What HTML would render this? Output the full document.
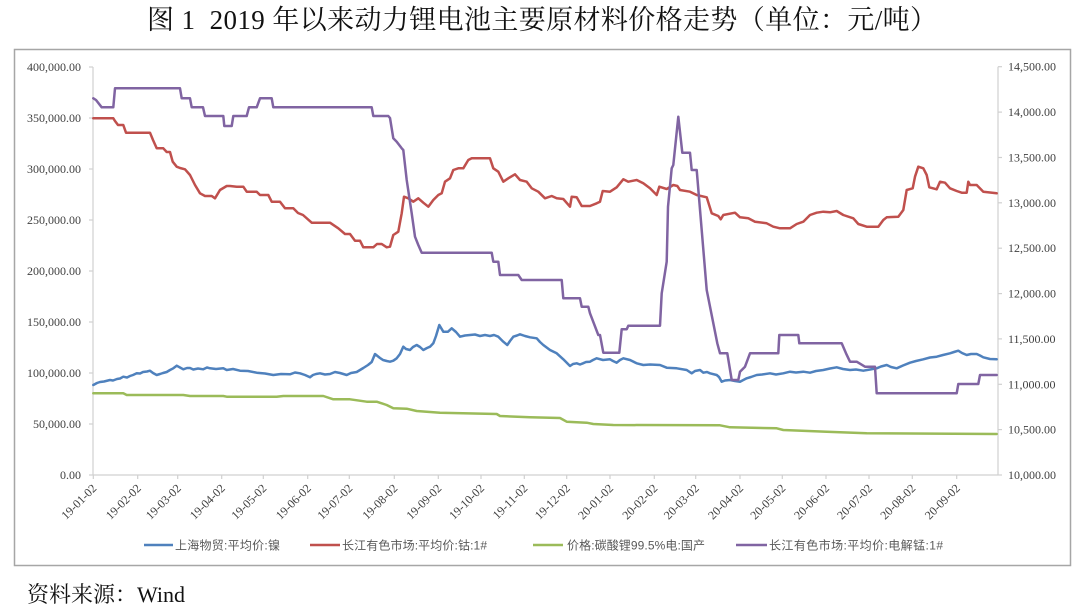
<!DOCTYPE html>
<html>
<head>
<meta charset="utf-8">
<style>
  html,body{margin:0;padding:0;background:#fff;}
  svg{display:block;}
  .ax{font-family:"Liberation Serif","Noto Serif CJK SC",serif;font-size:12px;fill:#404040;}
  .lg{font-family:"Liberation Sans","Noto Sans CJK SC",sans-serif;font-size:12px;fill:#595959;}
  .s{fill:none;stroke-width:2.5;stroke-linejoin:round;stroke-linecap:round;}
</style>
</head>
<body>
<svg width="1080" height="612" viewBox="0 0 1080 612" xmlns="http://www.w3.org/2000/svg">
  <rect width="1080" height="612" fill="#fff"/>
  <!-- Title -->
  <text x="147" y="29" font-family="'Liberation Serif','Noto Serif CJK SC',serif" font-size="27" fill="#111" textLength="790" xml:space="preserve">图 1  2019 年以来动力锂电池主要原材料价格走势（单位：元/吨）</text>

  <!-- Frame -->
  <rect x="14.5" y="49.5" width="1056" height="516" fill="#fff" stroke="#a6a6a6" stroke-width="1.5"/>

  <!-- Axes -->
  <g stroke="#d0d0d0" stroke-width="1.2" fill="none">
    <line x1="93" y1="67" x2="93" y2="475"/>
    <line x1="998" y1="66.7" x2="998" y2="475"/>
    <line x1="93" y1="475" x2="998" y2="475"/>
    <line x1="89" y1="475" x2="93" y2="475"/>
    <line x1="89" y1="424" x2="93" y2="424"/>
    <line x1="89" y1="373" x2="93" y2="373"/>
    <line x1="89" y1="322" x2="93" y2="322"/>
    <line x1="89" y1="271" x2="93" y2="271"/>
    <line x1="89" y1="220" x2="93" y2="220"/>
    <line x1="89" y1="169" x2="93" y2="169"/>
    <line x1="89" y1="118" x2="93" y2="118"/>
    <line x1="89" y1="67" x2="93" y2="67"/>
    <line x1="998" y1="475" x2="1002" y2="475"/>
    <line x1="998" y1="429.6" x2="1002" y2="429.6"/>
    <line x1="998" y1="384.3" x2="1002" y2="384.3"/>
    <line x1="998" y1="338.9" x2="1002" y2="338.9"/>
    <line x1="998" y1="293.6" x2="1002" y2="293.6"/>
    <line x1="998" y1="248.2" x2="1002" y2="248.2"/>
    <line x1="998" y1="202.8" x2="1002" y2="202.8"/>
    <line x1="998" y1="157.5" x2="1002" y2="157.5"/>
    <line x1="998" y1="112.1" x2="1002" y2="112.1"/>
    <line x1="998" y1="66.7" x2="1002" y2="66.7"/>
    <line x1="93.3" y1="475" x2="93.3" y2="479"/>
    <line x1="137.7" y1="475" x2="137.7" y2="479"/>
    <line x1="177.7" y1="475" x2="177.7" y2="479"/>
    <line x1="221.7" y1="475" x2="221.7" y2="479"/>
    <line x1="263.3" y1="475" x2="263.3" y2="479"/>
    <line x1="307.7" y1="475" x2="307.7" y2="479"/>
    <line x1="349.3" y1="475" x2="349.3" y2="479"/>
    <line x1="394.3" y1="475" x2="394.3" y2="479"/>
    <line x1="438.3" y1="475" x2="438.3" y2="479"/>
    <line x1="481" y1="475" x2="481" y2="479"/>
    <line x1="524.3" y1="475" x2="524.3" y2="479"/>
    <line x1="566.7" y1="475" x2="566.7" y2="479"/>
    <line x1="610" y1="475" x2="610" y2="479"/>
    <line x1="654.3" y1="475" x2="654.3" y2="479"/>
    <line x1="695.7" y1="475" x2="695.7" y2="479"/>
    <line x1="740" y1="475" x2="740" y2="479"/>
    <line x1="782.3" y1="475" x2="782.3" y2="479"/>
    <line x1="826" y1="475" x2="826" y2="479"/>
    <line x1="869" y1="475" x2="869" y2="479"/>
    <line x1="912.3" y1="475" x2="912.3" y2="479"/>
    <line x1="956.7" y1="475" x2="956.7" y2="479"/>
  </g>

  <!-- Left axis labels -->
  <g class="ax" text-anchor="end">
    <text x="81" y="479">0.00</text>
    <text x="81" y="428">50,000.00</text>
    <text x="81" y="377">100,000.00</text>
    <text x="81" y="326">150,000.00</text>
    <text x="81" y="275">200,000.00</text>
    <text x="81" y="224">250,000.00</text>
    <text x="81" y="173">300,000.00</text>
    <text x="81" y="122">350,000.00</text>
    <text x="81" y="71">400,000.00</text>
  </g>
  <!-- Right axis labels -->
  <g class="ax" text-anchor="start">
    <text x="1008" y="479">10,000.00</text>
    <text x="1008" y="433.6">10,500.00</text>
    <text x="1008" y="388.3">11,000.00</text>
    <text x="1008" y="342.9">11,500.00</text>
    <text x="1008" y="297.6">12,000.00</text>
    <text x="1008" y="252.2">12,500.00</text>
    <text x="1008" y="206.8">13,000.00</text>
    <text x="1008" y="161.5">13,500.00</text>
    <text x="1008" y="116.1">14,000.00</text>
    <text x="1008" y="70.7">14,500.00</text>
  </g>

  <!-- X labels -->
  <g class="ax" text-anchor="end">
    <text x="97.3" y="489" transform="rotate(-45 97.3 489)">19-01-02</text>
    <text x="141.7" y="489" transform="rotate(-45 141.7 489)">19-02-02</text>
    <text x="181.7" y="489" transform="rotate(-45 181.7 489)">19-03-02</text>
    <text x="225.7" y="489" transform="rotate(-45 225.7 489)">19-04-02</text>
    <text x="267.3" y="489" transform="rotate(-45 267.3 489)">19-05-02</text>
    <text x="311.7" y="489" transform="rotate(-45 311.7 489)">19-06-02</text>
    <text x="353.3" y="489" transform="rotate(-45 353.3 489)">19-07-02</text>
    <text x="398.3" y="489" transform="rotate(-45 398.3 489)">19-08-02</text>
    <text x="442.3" y="489" transform="rotate(-45 442.3 489)">19-09-02</text>
    <text x="485" y="489" transform="rotate(-45 485 489)">19-10-02</text>
    <text x="528.3" y="489" transform="rotate(-45 528.3 489)">19-11-02</text>
    <text x="570.7" y="489" transform="rotate(-45 570.7 489)">19-12-02</text>
    <text x="614" y="489" transform="rotate(-45 614 489)">20-01-02</text>
    <text x="658.3" y="489" transform="rotate(-45 658.3 489)">20-02-02</text>
    <text x="699.7" y="489" transform="rotate(-45 699.7 489)">20-03-02</text>
    <text x="744" y="489" transform="rotate(-45 744 489)">20-04-02</text>
    <text x="786.3" y="489" transform="rotate(-45 786.3 489)">20-05-02</text>
    <text x="830" y="489" transform="rotate(-45 830 489)">20-06-02</text>
    <text x="873" y="489" transform="rotate(-45 873 489)">20-07-02</text>
    <text x="916.3" y="489" transform="rotate(-45 916.3 489)">20-08-02</text>
    <text x="960.7" y="489" transform="rotate(-45 960.7 489)">20-09-02</text>
  </g>

  <!-- Green: lithium carbonate -->
  <polyline class="s" stroke="#9bbb59" points="93.3,393.3 123.3,393.3 126.7,395 183.3,395 190,396 223.3,396 226.7,396.7 276.7,396.7 283.3,396 323.3,396 333.3,399.3 350,399.3 366.7,401.7 376.7,401.7 386.7,405 393.3,408.3 406.7,408.7 416.7,411 440,412.7 496.7,414 500,416 530,417.3 560,418 566.7,421.7 586.7,422.7 593.3,424 613.3,425 720,425.3 730,427.3 776.7,428.3 783.3,430 826.7,431.7 866.7,433.3 996.7,434"/>

  <!-- Blue: nickel -->
  <polyline class="s" stroke="#4f81bd" points="93.3,385 97,383 100,382 104,381.5 110,380 113,380.5 117,379 120,378.5 123.3,376.7 127,377.5 130,376 133,375 136.7,373.3 140,373.5 143,372 147,371.5 150,370.7 153,373 156.7,375 160,374 163,373 166.7,372 170,370 173.3,368.3 176.7,365.7 180,367.5 183.3,369.3 187,368 190,368 193.3,369.5 198,368.5 203.3,369.3 207,367.5 210,368.3 216,369 223.3,368.3 226.7,370 233,369 240,370.7 248,371 256.7,372.7 265,373.5 273.3,375 281,374 290,374.3 295,372.5 300,373.3 305,375 310,377.3 313,375 316,374 320,373.3 325,374.5 330,374 335,372 340,373 346.7,375 351,373 356.7,372 360,370 363.3,368 368,365 371.7,362 375,354 380,358 383,360 386.7,361 390,361.7 393.3,360.7 396.7,358.3 400,354 403.3,346.7 406,349 410,350 413,347 416.7,345 420,347 423.3,350 427,348 430,346.7 433.3,343.3 436,336 439.3,325 443.3,331.7 448,331.7 451.7,328.3 456,332 460,336.7 465,335.5 470,335 475,334.5 480,336 485,335 490,336 494,335 498.3,336.7 503.3,341.7 507.3,345 510,341 513.3,336.7 517,335.5 520,334.3 525,336 530,337.3 536.7,338.3 540,342 543.3,345 550,350 556.7,353.3 563.3,359.3 570,366 573,364 576.7,363.3 580,364.5 583,363.3 586,362 590,361.7 593,360 596.7,358.3 603,360 610,359.3 613,361 616.7,362.7 620,360 623.3,358.3 630,360 636.7,363.3 643.3,365 650,364.5 660,365 666.7,367.7 676.7,368.3 686.7,370 691.7,373.3 695,371 700,370 703.3,372.7 707,372 710,373.3 716.7,375 719,377 721.7,381.7 725,380.5 730,380 735,381 740,381.7 746.7,378.3 751,377 756.7,375 762,374.5 770,373.3 776,374.5 783.3,373.3 790,371.7 796,372.5 803.3,371.7 810,372.7 816,371 823.3,370 830,368.5 836.7,367.3 843,369 850,370 856,369.5 863.3,370.7 870,369.5 876.7,368.3 881,366.5 886.7,365 891,367 896.7,368.3 903,365.5 910,362.7 916,361 923.3,359.3 930,357.5 936.7,356.7 943,355 950,353.3 954,352 958.3,350.7 962,353 966.7,355 971,354 976.7,354 980,355.5 983.3,357.3 990,359 996.7,359.3"/>

  <!-- Red: cobalt -->
  <polyline class="s" stroke="#c0504d" points="93.3,118.3 113.3,118.3 115,121 118,125 123.3,125 126,132.7 150,132.7 153,140 156.7,148.3 163.3,148.3 166.7,152 170,152 172.7,161.7 176.7,166.7 180,168 185,169.3 190,175 195,185 200,193.3 205,196 211.7,196 215,198.3 220,190 226.7,186 230,186 236.7,186.7 243.3,186.7 246.7,191.7 256.7,191.7 260,195 268.3,195 271.7,201.7 280,201.7 285,208.3 293.3,208.3 298,213 303,215 311.7,222.7 330,222.7 338.3,228.3 345,234 350,234 355,240.7 360,240.7 363.3,247.3 373.3,247.3 377,244 381.7,244 386.7,247.3 390,246.7 393.3,235 398.3,231.7 401.7,213.3 404,196.7 408.3,198.3 413.3,201.7 418.3,198.3 423.3,202.7 428.3,206.7 433.3,200 438.3,195 441.7,193.3 445,181.7 450,178.3 453.3,170 458.3,168.3 463.3,168.3 468.3,160 471.7,158.3 490,158.3 493.3,168.3 498.3,171.7 503.3,181.7 508.3,178.3 515,174.3 520,180 526.7,181.7 531.7,188.3 538.3,191.7 545,198.3 551.7,196 556.7,198.3 563.3,199 570,206.7 571.7,196.7 576.7,197.3 581.7,206 590,206 596.7,203.3 600,201.7 602.7,191 610,191.7 616.7,187.3 623.3,179.3 628.3,181.7 636.7,180 643.3,183.3 650,188.3 656.7,195 659.3,186.7 666.7,189 673.3,185 677.3,186 680,190 690,191.7 696.7,195 706.7,197.3 711.7,213.3 718.3,216 720.7,219.3 723.3,215 735,212.7 740,217.3 748.3,218.3 755,221.7 766.7,223.3 773.3,226.7 780,228.3 790,228.3 796.7,224 803.3,221.7 810,215 816.7,212.7 823.3,211.7 830,212.3 836.7,211 843.3,215 853.3,218.3 858.3,224 866.7,226.7 878.3,226.7 883.3,220 886.7,217.3 898.3,216.7 903.3,210 906.7,190 912.7,188.3 915,176.7 918.3,166.7 923.3,168.3 926.7,175 929.3,187.3 936.7,189.3 940,181.7 945,182.7 950,188.3 956.7,191 961.7,192.7 966.7,192.7 968.3,181.7 970,185 976.7,185 983.3,191.7 996.7,193.3"/>

  <!-- Purple: manganese -->
  <polyline class="s" stroke="#8064a2" points="93.3,98.3 96,100 101.7,107.3 113.3,107.3 115,88.3 180,88.3 181.7,98.3 190,98.3 191.7,107.3 203,107.3 205,116 223.3,116 224.3,126 231.7,126 233.3,116 246.7,116 249,107.3 256.7,107.3 260,98.3 271.7,98.3 273.3,107.3 371.7,107.3 373.3,116 388.3,116 390,118 393.3,138.3 396.7,141.7 401.7,148.3 403.3,150 406.7,180 411.7,213.3 415,236.7 418.3,245 421.7,252.7 491.7,252.7 493.3,261.7 498.3,261.7 500,275 518.3,275 521.7,280 561.7,280 563.3,298.3 580,298.3 581.7,306.7 588.3,306.7 590,313.3 598.3,335 600,335 603.3,352.7 619.3,352.7 621.7,329.3 626.7,329.3 628.3,325.7 660,325.7 661.7,293.3 666.7,261.7 668,206.7 671.7,168.3 673.3,165 678.3,116.7 682.3,152.7 690,152.7 691.7,170 696.7,170 706.7,290 717.3,343.3 720,353.3 727.3,353.3 731.7,380 738.3,380 740,371.7 745,366.7 750,353.3 778.3,353.3 779.3,335 798.3,335 799.3,343.3 841.7,343.3 846,353.3 850,361.7 856.7,361.7 865,366.7 875,366.7 876.7,393.3 956.7,393.3 958.3,384 978.3,384 980,375 996.7,375"/>

  <!-- Legend -->
  <g stroke-width="2.5">
    <line x1="144" y1="545" x2="173" y2="545" stroke="#4f81bd"/>
    <line x1="310" y1="545" x2="340" y2="545" stroke="#c0504d"/>
    <line x1="533" y1="545" x2="563" y2="545" stroke="#9bbb59"/>
    <line x1="736" y1="545" x2="767" y2="545" stroke="#8064a2"/>
  </g>
  <g class="lg">
    <text x="175" y="549.5" textLength="105">上海物贸:平均价:镍</text>
    <text x="342" y="549.5" textLength="145">长江有色市场:平均价:钴:1#</text>
    <text x="567" y="549.5" textLength="138">价格:碳酸锂99.5%电:国产</text>
    <text x="769" y="549.5" textLength="174">长江有色市场:平均价:电解锰:1#</text>
  </g>

  <!-- Footer -->
  <text x="27" y="602" font-family="'Liberation Serif','Noto Serif CJK SC',serif" font-size="22" fill="#111">资料来源：Wind</text>
</svg>
</body>
</html>
